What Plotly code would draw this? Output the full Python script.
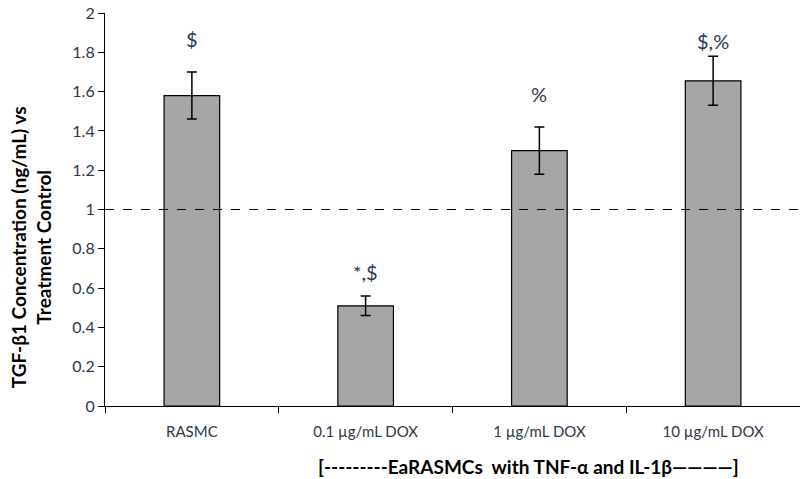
import plotly.graph_objects as go

categories = ["RASMC", "0.1 µg/mL DOX", "1 µg/mL DOX", "10 µg/mL DOX"]
values = [1.58, 0.51, 1.30, 1.655]
errors = [0.12, 0.05, 0.12, 0.125]
sig_labels = ["$", "*,$", "%", "$,%"]
sig_y = [1.87, 0.68, 1.59, 1.86]
yticks = [0, 0.2, 0.4, 0.6, 0.8, 1, 1.2, 1.4, 1.6, 1.8, 2]
ytick_text = ["0", "0.2", "0.4", "0.6", "0.8", "1", "1.2", "1.4", "1.6", "1.8", "2"]

font_family = "Lato, Open Sans, sans-serif"
tick_color = "#2e3848"

fig = go.Figure()
fig.add_trace(go.Bar(
    x=categories, y=values,
    marker=dict(color="#a6a6a6", line=dict(color="black", width=1.2)),
    error_y=dict(type="data", array=errors, visible=True, color="black", thickness=1.5, width=5),
    showlegend=False,
))

for c, t, yy in zip(categories, sig_labels, sig_y):
    fig.add_annotation(x=c, y=yy, text=t, showarrow=False,
                       font=dict(family=font_family, size=20, color="#2a3a55"))

fig.add_shape(type="line", xref="paper", yref="y", x0=0, x1=1, y0=1, y1=1,
              line=dict(color="black", width=1.2, dash="dash"))

fig.add_annotation(xref="paper", yref="paper", x=0.609, y=-0.155, yanchor="middle",
                   text="<b>[---------EaRASMCs  with TNF-α and IL-1β————]</b>",
                   showarrow=False, font=dict(family=font_family, size=19, color="black"))

fig.add_annotation(xref="paper", yref="paper", x=-0.106, y=0.405, xanchor="center", yanchor="middle",
                   textangle=-90,
                   text="<b>TGF-β1 Concentration (ng/mL) vs<br>Treatment Control</b>",
                   showarrow=False, font=dict(family=font_family, size=19, color="black"))

fig.update_layout(
    width=800, height=479,
    margin=dict(l=105, r=0, t=13, b=73),
    paper_bgcolor="white", plot_bgcolor="white",
    bargap=0.68,
    font=dict(family=font_family, size=15, color=tick_color),
    xaxis=dict(showline=True, linecolor="black", linewidth=1.2, ticks="outside",
               tickson="boundaries", ticklen=6, tickcolor="black", tickwidth=1.2,
               ticklabelstandoff=12,
               showgrid=False, automargin=False, tickfont=dict(size=15, color=tick_color)),
    yaxis=dict(range=[0, 2], tickvals=yticks, ticktext=ytick_text, showline=True,
               linecolor="black", linewidth=1.2, ticks="outside", ticklen=6,
               tickcolor="black", tickwidth=1.2, showgrid=False, zeroline=False,
               automargin=False, tickfont=dict(size=16, color=tick_color)),
)

fig.write_html("out.html", config={"displayModeBar": False},
               post_script="document.body.style.margin='0';document.body.style.overflow='hidden';")
